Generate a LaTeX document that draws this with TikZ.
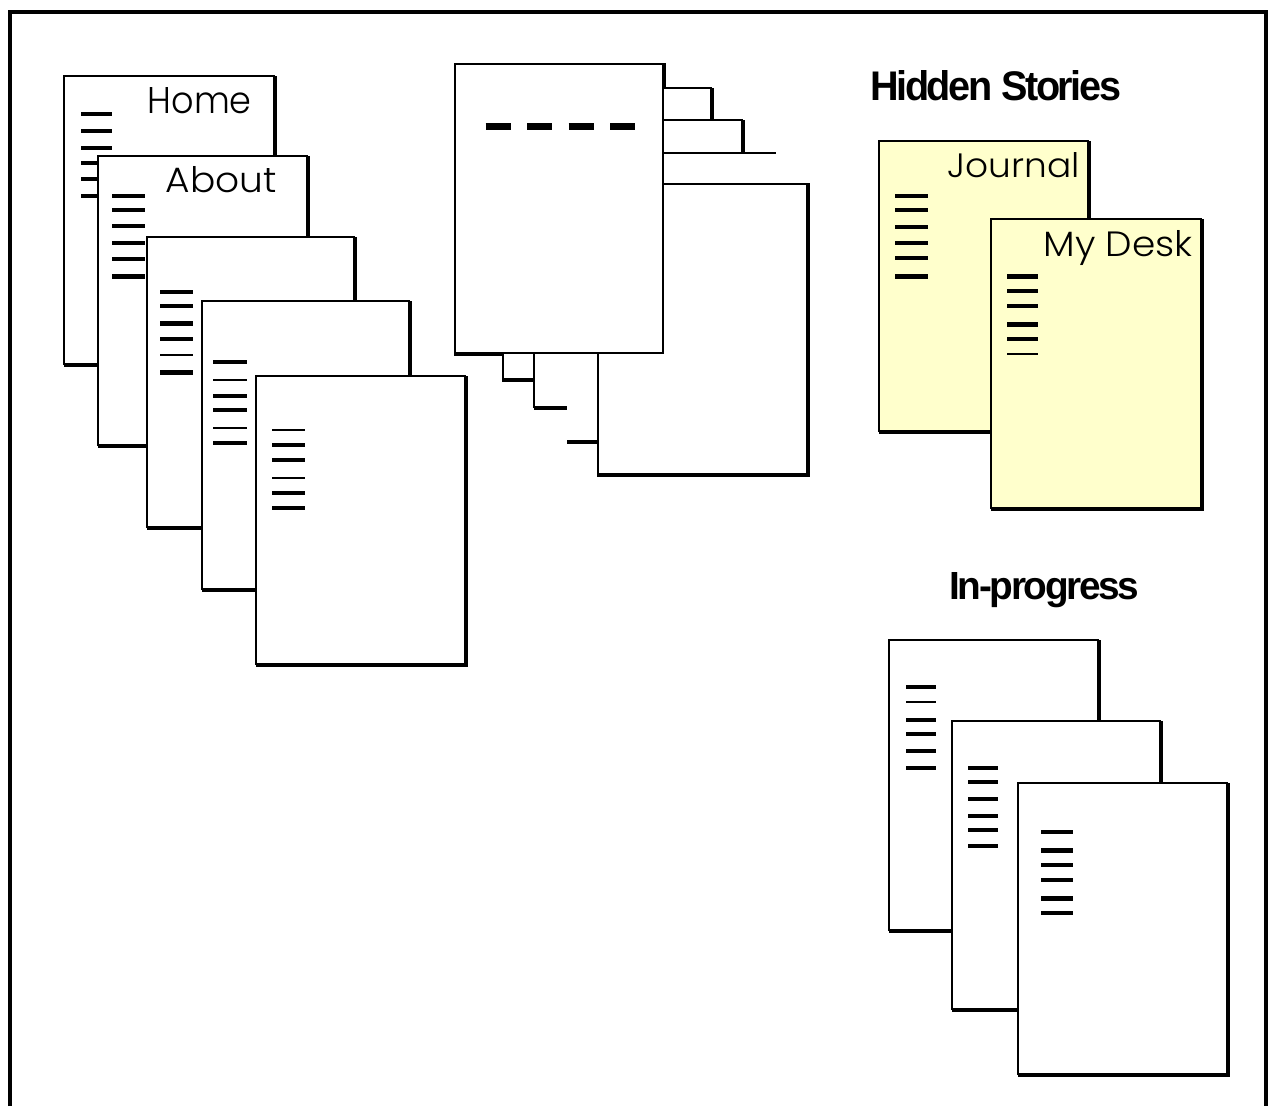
\documentclass[tikz,border=0pt]{standalone}
\usepackage{fontspec}
\newfontfamily\labfont{Poppins Light}
\newfontfamily\headfont{Liberation Sans}[LetterSpace=-6]
\definecolor{notepaper}{HTML}{FFFFCC}
\tikzset{
  thinedge/.style={line width=1.8pt},
  thickedge/.style={line width=3.4pt},
  framestyle/.style={line width=4pt},
  lbl/.style={inner sep=0pt, anchor=base east},
  headlbl/.style={inner sep=0pt, anchor=base west},
}
% page: x0 y0 x1 y1 fill
\newcommand\drawpage[5]{%
  \fill[#5] (#1,#2) rectangle (#3,#4);
  \draw[thinedge] (#1,#2) rectangle (#3,#4);
  \draw[thickedge] (#3+0.8,#2) -- (#3+0.8,#4+0.8) -- (#1,#4+0.8);
}
% text lines: x0 x1 {y/w,...}
\newcommand\textlines[3]{%
  \foreach \yy/\ww in {#3} {\draw[line width=\ww pt] (#1,\yy) -- (#2,\yy);}
}
\begin{document}
\begin{tikzpicture}[x=1pt,y=-1pt]
\useasboundingbox (0,0) rectangle (1268,1106);
\fill[white] (0,0) rectangle (1268,1106);

% ---------- left stack ----------
\drawpage{64}{76}{274}{364}{white}
\textlines{81}{112}{114/3.8,131/3.8,148/3.8,163/3.8,179/3.8,196/3.8}
\node[lbl] (home) at (252,113) {\resizebox{104pt}{26pt}{\labfont Home}};

\drawpage{98}{156}{307}{445}{white}
\textlines{112}{145}{196/3.8,210/3.8,226/3.8,243/3.8,259/3.8,276/5}
\node[lbl] (about) at (277,192) {\resizebox{111pt}{26pt}{\labfont About}};

\drawpage{147}{237}{354}{527}{white}
\textlines{160}{193}{292/3.8,306/3.8,323/5,339/3.8,355/2,372/5}

\drawpage{202}{301}{409}{589}{white}
\textlines{213}{247}{362/3.8,380/2,396/3.8,410/3.8,428/2,443/3.8}

\drawpage{256}{376}{465}{664}{white}
\textlines{272}{305}{430/2,445/4,460/3.8,478/2,493/3.8,508/3.8}

% ---------- middle fan ----------
\fill[white] (598,184) rectangle (808,475);
\draw[thinedge] (663,88) -- (712,88);
\draw[thickedge] (712,88) -- (712,121);
\draw[thinedge] (663,120) -- (743,120);
\draw[thickedge] (743,120) -- (743,154);
\draw[thinedge] (663,153) -- (776,153);
\draw[thinedge] (663,184) -- (808,184);
\draw[thickedge] (808,183) -- (808,475) -- (597,475);
\draw[thinedge] (598,475) -- (598,353);
\draw[thinedge] (503,353) -- (503,380);
\draw[thickedge] (502,380) -- (534,380);
\draw[thinedge] (534,353) -- (534,408);
\draw[thickedge] (534,408) -- (567,408);
\draw[thickedge] (567,442) -- (598,442);

\fill[white] (455,64) rectangle (663,353);
\draw[thinedge] (455,64) rectangle (663,353);
\draw[thickedge] (664.5,63) -- (664.5,88);
\draw[thickedge] (454,354) -- (503,354);
\draw[line width=6.5pt, dash pattern=on 25pt off 16.5pt] (485.7,126.7) -- (635.3,126.7);

% ---------- Hidden Stories ----------
\node[headlbl] (hidden) at (870,100) {\resizebox{251pt}{30pt}{\headfont\bfseries Hidden Stories}};

\drawpage{879}{141}{1088}{431}{notepaper}
\textlines{895}{928}{196/3.8,210/3.8,227/3.8,243/3.8,258/3.8,276/5}
\node[lbl] (journal) at (1080,177) {\resizebox{132pt}{25pt}{\labfont Journal}};

\drawpage{991}{219}{1201}{508}{notepaper}
\textlines{1007}{1038}{276/5,291/3.8,306/3.8,324/5,339/3.8,354/2}
\node[lbl] (desk) at (1193,256) {\resizebox{149pt}{26pt}{\labfont My Desk}};

% ---------- In-progress ----------
\node[headlbl] (inprog) at (949,599) {\resizebox{190pt}{27pt}{\headfont\bfseries In-progress}};

\drawpage{889}{640}{1098}{930}{white}
\textlines{906}{936}{687/3.8,702/2,720/3.8,734/3.8,751/3.8,768/3.8}

\drawpage{952}{721}{1160}{1009}{white}
\textlines{968}{998}{768/3.8,782/3.8,799/3.8,816/3.8,830/3.8,846/3.8}

\drawpage{1018}{783}{1227}{1074}{white}
\textlines{1041}{1073}{832/3.8,850/5,865/3.8,880/3.8,898/5,913/3.8}

% ---------- outer frame ----------
\draw[framestyle] (10,1106) -- (10,11.7) -- (1265.5,11.7) -- (1265.5,1106);
\end{tikzpicture}
\end{document}
